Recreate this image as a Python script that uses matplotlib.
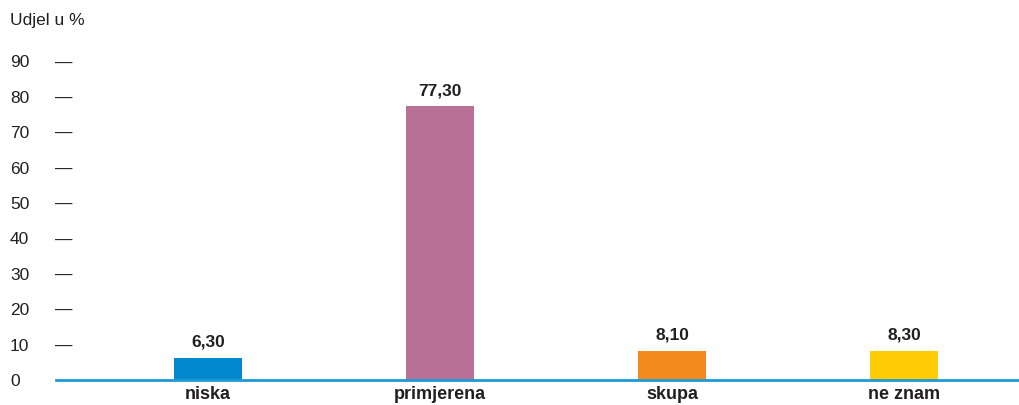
import matplotlib
matplotlib.use("Agg")
import matplotlib.pyplot as plt
import matplotlib.transforms as mtransforms

plt.rcParams['font.family'] = ['Liberation Sans', 'DejaVu Sans']

categories = ["niska", "primjerena", "skupa", "ne znam"]
values = [6.30, 77.30, 8.10, 8.30]
value_labels = ["6,30", "77,30", "8,10", "8,30"]
colors = ["#0088CE", "#B87097", "#F58B1F", "#FFCB05"]
yticks = [0, 10, 20, 30, 40, 50, 60, 70, 80, 90]

W, H = 1020, 405
fig = plt.figure(figsize=(W / 100, H / 100), dpi=100)
ax_left, ax_right = 56, 1020
ax_bottom_px, ax_top_px = 380, 26
ax = fig.add_axes([ax_left / W, (H - ax_bottom_px) / H,
                   (ax_right - ax_left) / W, (ax_bottom_px - ax_top_px) / H])

x = list(range(len(categories)))
ax.bar(x, values, width=0.293, color=colors, zorder=2)
ax.set_xlim(-0.655, 3.5)
ax.set_ylim(0, 100)

for xi, v, lab in zip(x, values, value_labels):
    ax.annotate(lab, (xi, v), xytext=(0, 6), textcoords="offset points",
                ha="center", va="bottom", fontsize=12.5, fontweight="bold",
                color="#231F20")

for s in ["top", "right", "left"]:
    ax.spines[s].set_visible(False)
ax.spines["bottom"].set_color("#1A9BD7")
ax.spines["bottom"].set_linewidth(2)
ax.spines["bottom"].set_zorder(3)

ax.set_xticks(x)
ax.set_xticklabels(categories, fontsize=13, fontweight="bold", color="#231F20")
ax.tick_params(axis="x", length=0, pad=4)
ax.set_yticks([])

trans_lab = mtransforms.blended_transform_factory(fig.transFigure, ax.transData) + \
    mtransforms.ScaledTranslation(0, -1.5 / 100, fig.dpi_scale_trans)
for t in yticks:
    fig.text(10 / W, t, str(t), transform=trans_lab, ha="left", va="center",
             fontsize=12.5, color="#231F20")
    if t > 0:
        fig.text(55 / W, t, "\u2014", transform=trans_lab, ha="left", va="center",
                 fontsize=12.5, color="#231F20")

fig.text(10 / W, 1 - 20 / H, "Udjel u %", ha="left", va="center",
         fontsize=12.5, color="#231F20")

fig.savefig("out.png", dpi=100)
